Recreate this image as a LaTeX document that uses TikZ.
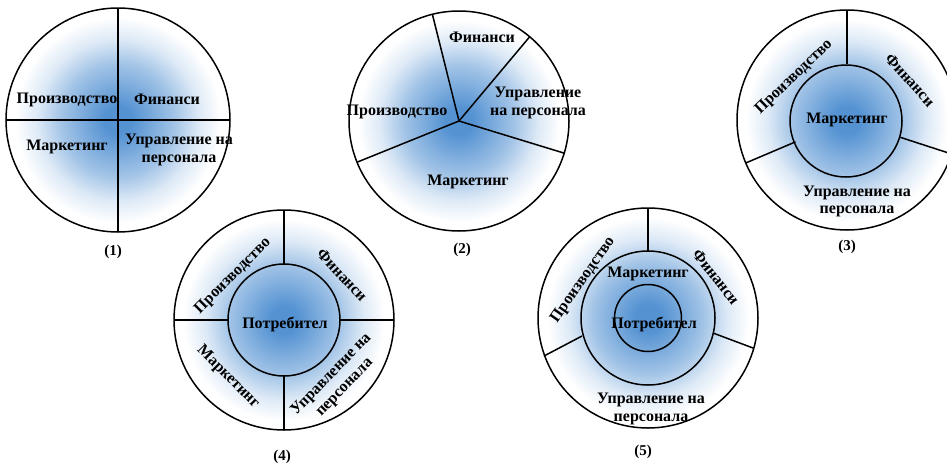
\documentclass[tikz,border=0pt]{standalone}
\usepackage{fontspec}
\setmainfont{Liberation Serif}
\usetikzlibrary{calc}
\definecolor{bc}{RGB}{84,146,210}
\pgfdeclareradialshading{blueball}{\pgfpoint{0bp}{0bp}}{color(0bp)=(bc); color(3bp)=(bc); color(12.5bp)=(bc!55!white); color(18bp)=(bc!20!white); color(23bp)=(white); color(50bp)=(white)}
\tikzset{
  lbl/.style={font=\bfseries\fontsize{16}{18.5}\selectfont, align=center, inner sep=0pt},
  captxt/.style={font=\bfseries\fontsize{15}{17}\selectfont, inner sep=0pt},
  ring/.style={draw=black, line width=1.5pt},
  spoke/.style={draw=black, line width=1.5pt},
  ball/.style={shading=blueball}
}
\begin{document}
\begin{tikzpicture}[x=1pt,y=-1pt]
\useasboundingbox (0,0) rectangle (947,469);
\fill[white] (0,0) rectangle (947,469);
% ---------- (1)
\coordinate (c1) at (118,120);
\shade[ball] (c1) circle[radius=112];
\draw[spoke] ($(c1)+(0,-112)$) -- ($(c1)+(0,112)$);
\draw[spoke] ($(c1)+(-112,0)$) -- ($(c1)+(112,0)$);
\draw[ring] (c1) circle[radius=112];
\node[lbl] (a1) at (67,100) {Производство};
\node[lbl] (b1) at (167,99) {Финанси};
\node[lbl] (m1) at (67,147) {Маркетинг};
\node[lbl] (u1) at (179,150) {Управление на\\персонала};
\node[captxt] (k1) at (113,252) {(1)};
% ---------- (2)
\coordinate (c2) at (459,121);
\shade[ball] (c2) circle[radius=110];
\foreach \a in {-104,-50,17,158} \draw[spoke] (c2) -- ++(\a:110);
\draw[ring] (c2) circle[radius=110];
\node[lbl] (b2) at (482,37) {Финанси};
\node[lbl] (u2) at (538,103) {Управление\\на персонала};
\node[lbl] (a2) at (397,112) {Производство};
\node[lbl] (m2) at (468,182) {Маркетинг};
\node[captxt] (k2) at (462,250) {(2)};
% ---------- (3)
\coordinate (c3) at (847,120);
\coordinate (i3) at (846,121);
\shade[ball] (c3) circle[radius=110];
\foreach \a in {-90,18,157} \draw[spoke] ($(c3)+(\a:56)$) -- ($(c3)+(\a:110)$);
\draw[ring] (c3) circle[radius=110];
\draw[ring] (i3) circle[radius=56];
\node[lbl, rotate=44] (a3) at (794,77) {Производство};
\node[lbl, rotate=-48] (b3) at (910,80) {Финанси};
\node[lbl] (m3) at (847,120) {Маркетинг};
\node[lbl, font=\bfseries\fontsize{16}{17}\selectfont] (u3) at (857,201) {Управление на\\персонала};
\node[captxt] (k3) at (847,247) {(3)};
% ---------- (4)
\coordinate (c4) at (284,320);
\shade[ball] (c4) circle[radius=110];
\foreach \a in {-90,0,90,180} \draw[spoke] ($(c4)+(\a:56)$) -- ($(c4)+(\a:110)$);
\draw[ring] (c4) circle[radius=110];
\draw[ring] (c4) circle[radius=56];
\node[lbl, rotate=45] (a4) at (233,276) {Производство};
\node[lbl, rotate=-47] (b4) at (342,275) {Финанси};
\node[lbl, rotate=-45] (m4) at (228,377) {Маркетинг};
\node[lbl, rotate=46] (u4) at (338,381) {Управление на\\персонала};
\node[lbl] (p4) at (285,324) {Потребител};
\node[captxt] (k4) at (282,457) {(4)};
% ---------- (5)
\coordinate (c5) at (648,318);
\shade[ball] (c5) circle[radius=110];
\coordinate (t5a) at (648,208); \coordinate (t5b) at (648,251);
\coordinate (r5a) at (713,333); \coordinate (r5b) at (753,348);
\coordinate (l5a) at (582,336); \coordinate (l5b) at (544,356);
\draw[spoke] (t5a) -- (t5b);
\draw[spoke] (r5a) -- (r5b);
\draw[spoke] (l5a) -- (l5b);
\draw[ring] (c5) circle[radius=110];
\draw[ring] (c5) circle[radius=67];
\draw[ring] (c5) circle[radius=33.5];
\node[lbl, rotate=55] (a5) at (583,280) {Производство};
\node[lbl, rotate=-52] (b5) at (716,277) {Финанси};
\node[lbl] (m5) at (648,274) {Маркетинг};
\node[lbl] (p5) at (654,324) {Потребител};
\node[lbl] (u5) at (651,409) {Управление на\\персонала};
\node[captxt] (k5) at (643,452) {(5)};
\end{tikzpicture}
\end{document}
